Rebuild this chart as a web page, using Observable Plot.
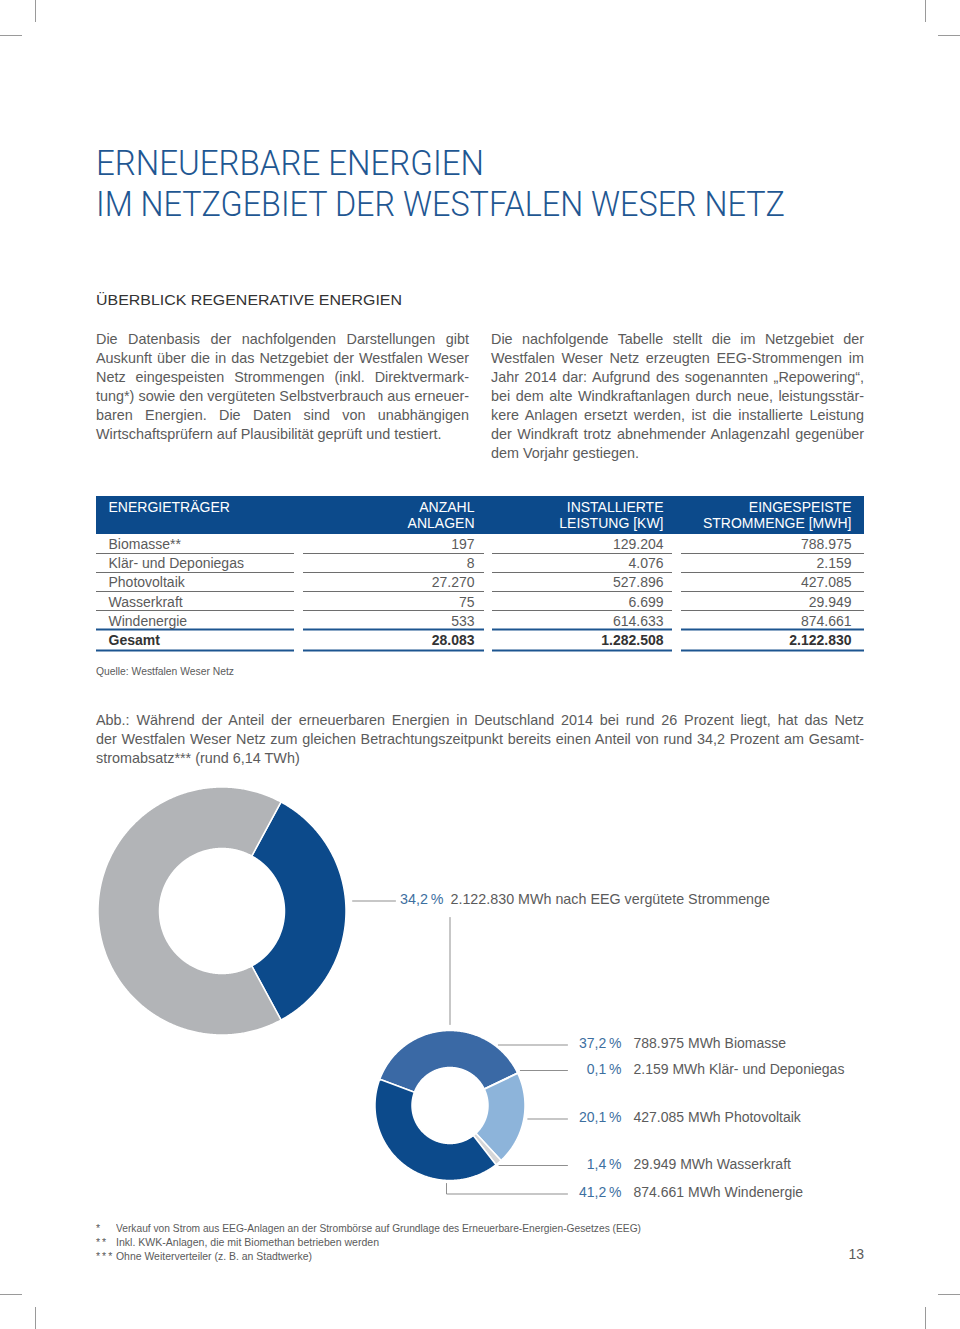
<!DOCTYPE html>
<html><head><meta charset="utf-8">
<script src="https://cdn.jsdelivr.net/npm/d3@7"></script>
<script src="https://cdn.jsdelivr.net/npm/@observablehq/plot@0.6"></script>
<style>
html,body{margin:0;padding:0;background:#fff;}
#page{position:relative;width:960px;height:1329px;overflow:hidden;font-family:"Liberation Sans",Arial,sans-serif;color:#5b5b5b;}
.abs{position:absolute;white-space:nowrap;}
.mark{position:absolute;background:#9a9a9a;}
.plotbox{position:absolute;left:0;}
</style></head><body><div id="page"></div>
<script>
// ---------- DATA ----------
const titleLines = ["ERNEUERBARE ENERGIEN", "IM NETZGEBIET DER WESTFALEN WESER NETZ"];
const sectionTitle = "ÜBERBLICK REGENERATIVE ENERGIEN";
const introLeft = [
  "Die Datenbasis der nachfolgenden Darstellungen gibt",
  "Auskunft über die in das Netzgebiet der Westfalen Weser",
  "Netz eingespeisten Strommengen (inkl. Direktvermark-",
  "tung*) sowie den vergüteten Selbstverbrauch aus erneuer-",
  "baren Energien. Die Daten sind von unabhängigen",
  "Wirtschaftsprüfern auf Plausibilität geprüft und testiert."
];
const introRight = [
  "Die nachfolgende Tabelle stellt die im Netzgebiet der",
  "Westfalen Weser Netz erzeugten EEG-Strommengen im",
  "Jahr 2014 dar: Aufgrund des sogenannten „Repowering“,",
  "bei dem alte Windkraftanlagen durch neue, leistungsstär-",
  "kere Anlagen ersetzt werden, ist die installierte Leistung",
  "der Windkraft trotz abnehmender Anlagenzahl gegenüber",
  "dem Vorjahr gestiegen."
];
const tableHeaders = ["ENERGIETRÄGER", "ANZAHL\nANLAGEN", "INSTALLIERTE\nLEISTUNG [KW]", "EINGESPEISTE\nSTROMMENGE [MWH]"];
const carriers = ["Biomasse**", "Klär- und Deponiegas", "Photovoltaik", "Wasserkraft", "Windenergie", "Gesamt"];
const anlagen = [197, 8, 27270, 75, 533, 28083];
const leistungKW = [129204, 4076, 527896, 6699, 614633, 1282508];
const strommengeMWh = [788975, 2159, 427085, 29949, 874661, 2122830];
const sourceNote = "Quelle: Westfalen Weser Netz";
const abbLines = [
  "Abb.: Während der Anteil der erneuerbaren Energien in Deutschland 2014 bei rund 26 Prozent liegt, hat das Netz",
  "der Westfalen Weser Netz zum gleichen Betrachtungszeitpunkt bereits einen Anteil von rund 34,2 Prozent am Gesamt-",
  "stromabsatz*** (rund 6,14 TWh)"
];
const eegSharePct = [34.2, 65.8];          // EEG-vergütet vs. übriger Stromabsatz
const eegText = "nach EEG vergütete Strommenge";
const sources = ["Biomasse", "Klär- und Deponiegas", "Photovoltaik", "Wasserkraft", "Windenergie"];
const sourceMWh = [788975, 2159, 427085, 29949, 874661];
const sourcePct = [37.2, 0.1, 20.1, 1.4, 41.2];
const sourceColors = ["#3a69a5", "#5a85bd", "#8db4da", "#d5d6d8", "#0c4a8b"];
const eegColors = ["#0c4a8b", "#b2b4b7"];
const footStars = ["*", "**", "***"];
const footTexts = [
  "Verkauf von Strom aus EEG-Anlagen an der Strombörse auf Grundlage des Erneuerbare-Energien-Gesetzes (EEG)",
  "Inkl. KWK-Anlagen, die mit Biomethan betrieben werden",
  "Ohne Weiterverteiler (z. B. an Stadtwerke)"
];
const pageNumber = "13";

// ---------- HELPERS ----------
const de = d3.formatLocale({decimal: ",", thousands: ".", grouping: [3], currency: ["", ""]});
const fmt = de.format(",d");
const fmtPct = v => de.format(".1f")(v) + "\u2009%";
const page = document.getElementById("page");
const BLUE = "#0c4a8b", GREY = "#5b5b5b";

function txt(s, o) {
  const el = document.createElement("div");
  el.className = "abs";
  el.textContent = s;
  el.style.fontSize = o.size + "px";
  el.style.lineHeight = o.size + "px";
  el.style.left = o.x + "px";
  el.style.top = (o.baseline - 0.846 * o.size) + "px";
  el.style.color = o.color || GREY;
  if (o.family) el.style.fontFamily = o.family;
  if (o.weight) el.style.fontWeight = o.weight;
  if (o.ls) el.style.letterSpacing = o.ls + "px";
  page.appendChild(el);
  const w = el.getBoundingClientRect().width;
  if (o.anchor === "end") el.style.left = (o.x - w) + "px";
  if (o.fit) { el.style.transformOrigin = "0 0"; el.style.transform = `scaleX(${o.fit / w})`; }
  if (o.justify) {
    const n = (s.match(/ /g) || []).length;
    if (n) el.style.wordSpacing = ((o.justify - w) / n) + "px";
  }
  return el;
}
function markLine(x, y, w, h) {
  const d = document.createElement("div");
  d.className = "mark";
  Object.assign(d.style, {left: x + "px", top: y + "px", width: w + "px", height: h + "px"});
  page.appendChild(d);
}

// crop marks
markLine(35, 0, 1, 22); markLine(0, 35, 22, 1);
markLine(925, 0, 1, 22); markLine(938, 35, 22, 1);
markLine(35, 1307, 1, 22); markLine(0, 1294, 22, 1);
markLine(925, 1307, 1, 22); markLine(938, 1294, 22, 1);

// titles
txt(titleLines[0], {x: 96, baseline: 176, size: 35, color: "#1f5792", family: "Roboto, 'Liberation Sans', sans-serif", weight: 300, fit: 388});
txt(titleLines[1], {x: 96, baseline: 217, size: 35, color: "#1f5792", family: "Roboto, 'Liberation Sans', sans-serif", weight: 300, fit: 689});
txt(sectionTitle, {x: 96, baseline: 305, size: 15.5, color: "#333", fit: 306});

// intro paragraphs
introLeft.forEach((s, i) => txt(s, {x: 96, baseline: 344 + 19.1 * i, size: 14.4, justify: i < introLeft.length - 1 ? 373 : 0}));
introRight.forEach((s, i) => txt(s, {x: 491, baseline: 344 + 19.1 * i, size: 14.4, justify: i < introRight.length - 1 ? 373 : 0}));

// source note
txt(sourceNote, {x: 96, baseline: 675, size: 10.5, fit: 138});

// Abb text
abbLines.forEach((s, i) => txt(s, {x: 96, baseline: 725 + 19.1 * i, size: 14.4, justify: i < abbLines.length - 1 ? 768 : 0}));

// footnotes
const footW = [525, 263, 196];
footTexts.forEach((s, i) => {
  txt(footStars[i], {x: 96, baseline: 1231.5 + 14 * i, size: 10.5, ls: 2});
  txt(s, {x: 116, baseline: 1231.5 + 14 * i, size: 10.5, fit: footW[i]});
});
txt(pageNumber, {x: 864, baseline: 1259, size: 14, anchor: "end"});

// ---------- TABLE (Plot) ----------
const tTop = 488, tH = 172;
const colX = [[96, 294], [303, 484], [492, 672], [681, 864]];
const colText = [108, 474, 663, 851];
const rowY = carriers.map((_, i) => 544 + 19.2 * i);
const rows = carriers.map((name, i) => ({i, name, y: rowY[i], total: name === "Gesamt",
  vals: [anlagen[i], leistungKW[i], strommengeMWh[i]].map(fmt)}));
const cells = rows.flatMap(r => r.vals.map((v, j) => ({v, x: colText[j + 1], y: r.y, total: r.total})));
const rules = rows.flatMap(r => colX.map(([x1, x2]) => ({x1, x2, y: Math.round(r.y + 8.6 + (r.i >= 5 ? 1 : 0)),
  stroke: r.i >= 4 ? "#1c5590" : "#6e6e6e", sw: r.i >= 4 ? 2 : 1})));
const heads = tableHeaders.map((h, j) => ({h, x: colText[j]}));

const tablePlot = Plot.plot({
  width: 960, height: tH, margin: 0,
  x: {domain: [0, 960], range: [0, 960], axis: null},
  y: {domain: [tTop, tTop + tH], range: [0, tH], axis: null},
  color: {type: "identity"},
  style: {fontFamily: "'Liberation Sans', Arial, sans-serif", background: "transparent", overflow: "visible"},
  marks: [
    Plot.rect([0], {x1: 96, x2: 864, y1: 496, y2: 534, fill: BLUE}),
    Plot.text(heads.slice(0, 1), {x: "x", y: 500.5, text: "h", textAnchor: "start", lineAnchor: "top", lineHeight: 1.12, fill: "white", fontSize: 14}),
    Plot.text(heads.slice(1), {x: "x", y: 500.5, text: "h", textAnchor: "end", lineAnchor: "top", lineHeight: 1.12, fill: "white", fontSize: 14}),
    Plot.ruleY(rules, {y: "y", x1: "x1", x2: "x2", stroke: "stroke", strokeWidth: "sw"}),
    Plot.text(rows.filter(r => !r.total), {x: colText[0], y: "y", text: "name", textAnchor: "start", fill: GREY, fontSize: 14}),
    Plot.text(rows.filter(r => r.total), {x: colText[0], y: "y", text: "name", textAnchor: "start", fill: "#333", fontSize: 14, fontWeight: "bold"}),
    Plot.text(cells.filter(c => !c.total), {x: "x", y: "y", text: "v", textAnchor: "end", fill: GREY, fontSize: 14}),
    Plot.text(cells.filter(c => c.total), {x: "x", y: "y", text: "v", textAnchor: "end", fill: "#333", fontSize: 14, fontWeight: "bold"})
  ]
});
const tb = document.createElement("div"); tb.className = "plotbox"; tb.style.top = tTop + "px";
tb.appendChild(tablePlot); page.appendChild(tb);

// ---------- DONUTS (Plot) ----------
const dTop = 780, dH = 440;
const DEG = Math.PI / 180, TAU = 2 * Math.PI;
function ring(arcs, cx, cy, r0, r1, prefix, colors) {
  return arcs.flatMap((a, i) => {
    const n = Math.max(2, Math.ceil((a.endAngle - a.startAngle) / (0.5 * DEG)) + 1);
    const pts = [];
    for (let k = 0; k < n; k++) { const t = a.startAngle + (a.endAngle - a.startAngle) * k / (n - 1); pts.push([cx + r1 * Math.sin(t), cy - r1 * Math.cos(t)]); }
    for (let k = n - 1; k >= 0; k--) { const t = a.startAngle + (a.endAngle - a.startAngle) * k / (n - 1); pts.push([cx + r0 * Math.sin(t), cy - r0 * Math.cos(t)]); }
    pts.push(pts[0]);
    return pts.map(([x, y]) => ({key: prefix + i, x, y, fill: colors[i]}));
  });
}
// big donut
const big = {cx: 221.5, cy: 910.5, r0: 62.5, r1: 124};
const bigStart = Math.PI / 2 - eegSharePct[0] / 100 * Math.PI;   // EEG share centred at 3 o'clock
const bigArcs = d3.pie().sort(null).startAngle(bigStart).endAngle(bigStart + TAU)(eegSharePct);
// small donut
const sm = {cx: 449.5, cy: 1105, r0: 38, r1: 75};
const smStart = -69.5 * DEG;
const smArcs = d3.pie().sort(null).startAngle(smStart).endAngle(smStart + TAU)(sourceMWh);
const slices = [...ring(bigArcs, big.cx, big.cy, big.r0, big.r1, "b", eegColors),
                ...ring(smArcs, sm.cx, sm.cy, sm.r0, sm.r1, "s", sourceColors)];

// labels
const bigLabelY = 899;
const smLabelY = [1043.5, 1069, 1117.5, 1164, 1192.5];
const edgeX = (c, y, gap) => c.cx + Math.sqrt(Math.max(0, c.r1 * c.r1 - (y - c.cy) ** 2)) + gap;
const leaders = [];
leaders.push({key: "big", x: edgeX(big, bigLabelY + 1.5, 7), y: bigLabelY + 1.5}, {key: "big", x: 395, y: bigLabelY + 1.5});
leaders.push({key: "conn", x: sm.cx, y: bigLabelY + 18}, {key: "conn", x: sm.cx, y: sm.cy - sm.r1 - 6});
smLabelY.forEach((y, i) => {
  const ly = y + 1;
  if (ly > sm.cy + sm.r1 * 0.9) {
    leaders.push({key: "l" + i, x: sm.cx - 3.5, y: sm.cy + sm.r1 + 3}, {key: "l" + i, x: sm.cx - 3.5, y: ly}, {key: "l" + i, x: 567, y: ly});
  } else {
    leaders.push({key: "l" + i, x: edgeX(sm, ly, 4), y: ly}, {key: "l" + i, x: 567, y: ly});
  }
});
const smLabels = sources.map((s, i) => ({pct: fmtPct(sourcePct[i]), desc: `${fmt(sourceMWh[i])} MWh ${s}`, y: smLabelY[i]}));
const bigLabels = [{pct: fmtPct(eegSharePct[0]), desc: `${fmt(strommengeMWh[5])} MWh ${eegText}`, y: bigLabelY}];

const donutPlot = Plot.plot({
  width: 960, height: dH, margin: 0,
  x: {domain: [0, 960], range: [0, 960], axis: null},
  y: {domain: [dTop, dTop + dH], range: [0, dH], axis: null},
  color: {type: "identity"},
  style: {fontFamily: "'Liberation Sans', Arial, sans-serif", background: "transparent", overflow: "visible"},
  marks: [
    Plot.line(slices, {x: "x", y: "y", z: "key", fill: "fill", stroke: "white", strokeWidth: 1.5, curve: "linear"}),
    Plot.line(leaders, {x: "x", y: "y", z: "key", stroke: "#8f8f8f", strokeWidth: 1}),
    Plot.text(bigLabels, {x: 443, y: "y", text: "pct", textAnchor: "end", fill: "#3d6f9f", fontSize: 14.3}),
    Plot.text(bigLabels, {x: 450, y: "y", text: "desc", textAnchor: "start", fill: GREY, fontSize: 14.3}),
    Plot.text(smLabels, {x: 621, y: "y", text: "pct", textAnchor: "end", fill: "#3d6f9f", fontSize: 14}),
    Plot.text(smLabels, {x: 633, y: "y", text: "desc", textAnchor: "start", fill: GREY, fontSize: 14})
  ]
});
const db = document.createElement("div"); db.className = "plotbox"; db.style.top = dTop + "px";
db.appendChild(donutPlot); page.appendChild(db);
</script>
</body></html>
